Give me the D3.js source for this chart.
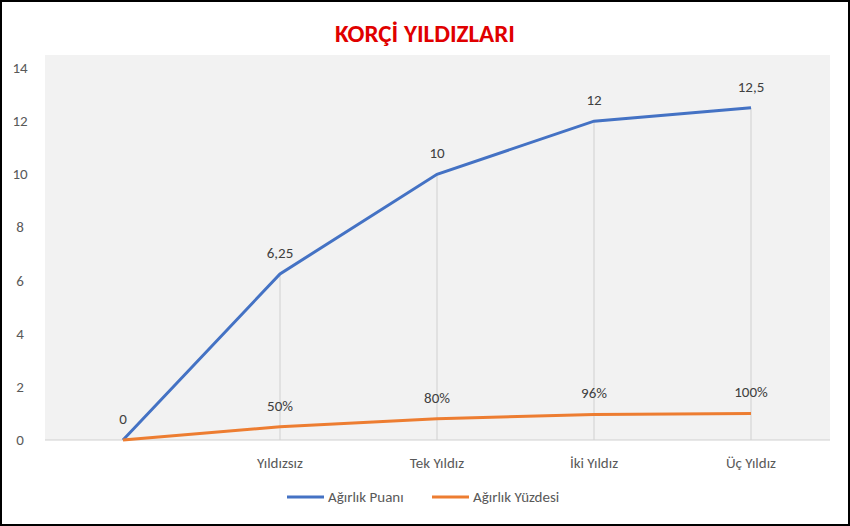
<!DOCTYPE html>
<head>
<meta charset="utf-8">
<script src="https://cdn.jsdelivr.net/npm/d3@7"></script>
<style>body{margin:0;background:#fff}</style>
</head>
<body>
<div id="container"></div>
<script>
const categories = ["", "Yıldızsız", "Tek Yıldız", "İki Yıldız", "Üç Yıldız"];
const puan = [0, 6.25, 10, 12, 12.5];
const yuzde = [0, 0.5, 0.8, 0.96, 1.0];
const puanLabels = ["0", "6,25", "10", "12", "12,5"];
const yuzdeLabels = ["", "50%", "80%", "96%", "100%"];
const yTicks = [0, 2, 4, 6, 8, 10, 12, 14];

const W = 850, H = 526;
const svg = d3.select("#container").append("svg").attr("width", W).attr("height", H)
    .style("font-family", "Calibri, Carlito, 'Liberation Sans', sans-serif");

svg.append("rect").attr("x", 1).attr("y", 1).attr("width", W - 2).attr("height", H - 2)
    .attr("fill", "#fff").attr("stroke", "#000").attr("stroke-width", 2);

const plotL = 45, plotR = 830, plotT = 55, plotB = 440;
svg.append("rect").attr("x", plotL).attr("y", plotT).attr("width", plotR - plotL).attr("height", plotB - plotT)
    .attr("fill", "#f2f2f2");

const x = d3.scalePoint().domain(d3.range(categories.length)).range([123, 751]);
const y = d3.scaleLinear().domain([0, 14]).range([plotB, 68]);

svg.append("text").attr("x", W / 2).attr("y", 42).attr("text-anchor", "middle")
    .attr("fill", "#e00000").attr("font-weight", "bold").attr("font-size", 25).text("KORÇİ YILDIZLARI");

// y labels
svg.selectAll(".yl").data(yTicks).join("text")
    .attr("x", 20).attr("y", d => y(d) + 5).attr("text-anchor", "middle")
    .attr("font-size", 15).attr("fill", "#595959").text(d => d);

// drop lines
svg.selectAll(".drop").data(d3.range(1, categories.length)).join("line")
    .attr("x1", i => x(i)).attr("x2", i => x(i)).attr("y1", i => y(puan[i])).attr("y2", plotB)
    .attr("stroke", "#d0d0d0").attr("stroke-width", 1);

svg.append("line").attr("x1", plotL).attr("x2", plotR).attr("y1", plotB).attr("y2", plotB)
    .attr("stroke", "#d0d0d0");

svg.selectAll(".xl").data(categories).join("text")
    .attr("x", (d, i) => x(i)).attr("y", 468).attr("text-anchor", "middle")
    .attr("font-size", 15).attr("fill", "#595959").text(d => d);

const line = d3.line().x((d, i) => x(i)).y(d => y(d));
svg.append("path").datum(puan).attr("d", line).attr("fill", "none").attr("stroke", "#4472c4").attr("stroke-width", 3);
svg.append("path").datum(yuzde).attr("d", line).attr("fill", "none").attr("stroke", "#ed7d31").attr("stroke-width", 3);

svg.selectAll(".pl").data(puanLabels).join("text")
    .attr("x", (d, i) => x(i)).attr("y", (d, i) => y(puan[i]) - 16)
    .attr("text-anchor", "middle").attr("font-size", 15).attr("fill", "#404040").text(d => d);
svg.selectAll(".ql").data(yuzdeLabels).join("text")
    .attr("x", (d, i) => x(i)).attr("y", (d, i) => y(yuzde[i]) - 16)
    .attr("text-anchor", "middle").attr("font-size", 15).attr("fill", "#404040").text(d => d);

// legend
const legend = [["Ağırlık Puanı", "#4472c4", 287], ["Ağırlık Yüzdesi", "#ed7d31", 432]];
legend.forEach(([t, c, lx]) => {
    svg.append("line").attr("x1", lx).attr("x2", lx + 37).attr("y1", 497).attr("y2", 497).attr("stroke", c).attr("stroke-width", 3);
    svg.append("text").attr("x", lx + 41).attr("y", 502).attr("font-size", 15).attr("fill", "#595959").text(t);
});
</script>
</body>
